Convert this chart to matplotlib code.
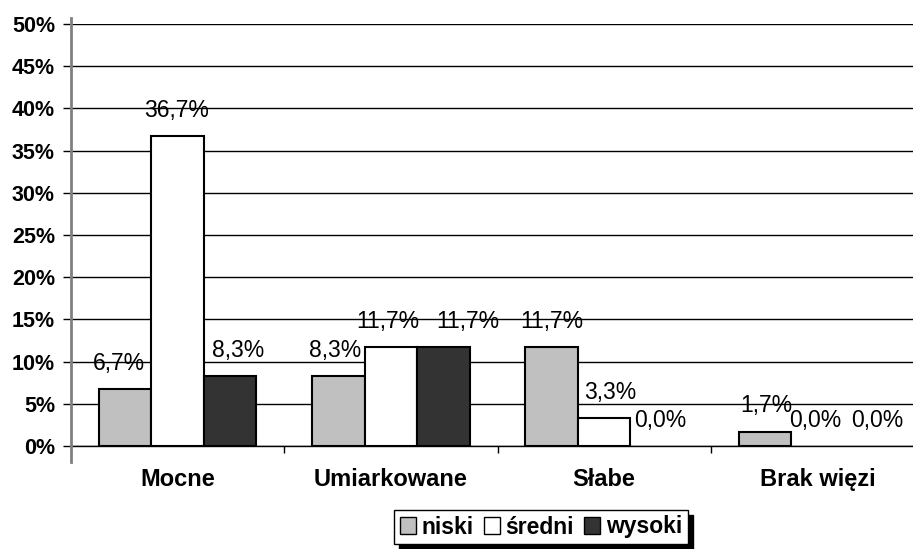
import matplotlib
matplotlib.use('Agg')
import matplotlib.pyplot as plt
import numpy as np

plt.rcParams['font.family'] = ['Liberation Sans', 'DejaVu Sans']

categories = ['Mocne', 'Umiarkowane', 'Słabe', 'Brak więzi']
series = ['niski', 'średni', 'wysoki']
niski = [6.7, 8.3, 11.7, 1.7]
sredni = [36.7, 11.7, 3.3, 0.0]
wysoki = [8.3, 11.7, 0.0, 0.0]
yticks = [0, 5, 10, 15, 20, 25, 30, 35, 40, 45, 50]

colors = ['#C0C0C0', '#FFFFFF', '#333333']
# small manual shifts of the value labels (pixels), as in the original
label_dx = [[-6, -1, 8], [-3, -3, 24], [0, 6, 4], [1, -2, 7]]

fs = 15.5
fig = plt.figure(figsize=(9.13, 5.49), dpi=100)
ax = fig.add_axes([71/913, 103/549, 853/913, 422/549])

x = np.arange(len(categories))
w = 0.246
data = [niski, sredni, wysoki]
for i, (vals, name, c) in enumerate(zip(data, series, colors)):
    pos = x + (i - 1) * w
    lws = [1.5 if v > 0 else 0 for v in vals]
    ax.bar(pos, vals, w, color=c, edgecolor='black', linewidth=lws,
           label=name, zorder=3)
    for j, (p, v) in enumerate(zip(pos, vals)):
        ax.annotate(f"{v:.1f}%".replace('.', ','), (p, v),
                    xytext=(label_dx[j][i] * 0.72, 18.5), textcoords='offset points',
                    ha='center', va='center', fontsize=16.5, zorder=4)

ax.set_xlim(-0.5, 3.5)
ax.set_ylim(0, 50)
ax.set_yticks(yticks)
ax.set_yticklabels([f"{t}%" for t in yticks], fontsize=fs, fontweight='bold')
ax.yaxis.grid(True, color='black', linewidth=1)
ax.set_axisbelow(True)

ax.set_xticks(x)
ax.set_xticklabels(categories, fontsize=17, fontweight='bold')
ax.tick_params(axis='x', length=0, pad=16)
ax.set_xticks([0.5, 1.5, 2.5], minor=True)
ax.tick_params(axis='x', which='minor', length=5, width=1, color='black')
ax.tick_params(axis='y', length=6, width=1, color='black', pad=5.5)

for s in ['top', 'right', 'left']:
    ax.spines[s].set_visible(False)
ax.spines['bottom'].set_color('black')
ax.spines['bottom'].set_linewidth(1)
# grey vertical axis line, running a bit past the plot area as in the original
ax.plot([-0.5, -0.5], [-1.9, 50.7], color='#808080', linewidth=2,
        clip_on=False, zorder=5)

leg = fig.legend(loc='center', bbox_to_anchor=(541/913, 1 - 527/549), ncol=3,
                 frameon=True, fancybox=False, edgecolor='black',
                 shadow={'color': 'black', 'alpha': 1, 'ox': 3.5, 'oy': -3.5},
                 prop={'size': 16.5, 'weight': 'bold'},
                 handlelength=0.7, handleheight=0.7, handletextpad=0.25,
                 columnspacing=0.45, borderpad=0.25, borderaxespad=0)
leg.get_frame().set_linewidth(1)
for h in leg.legend_handles:
    h.set_linewidth(1)

fig.savefig('out.png', dpi=100, facecolor='white')
